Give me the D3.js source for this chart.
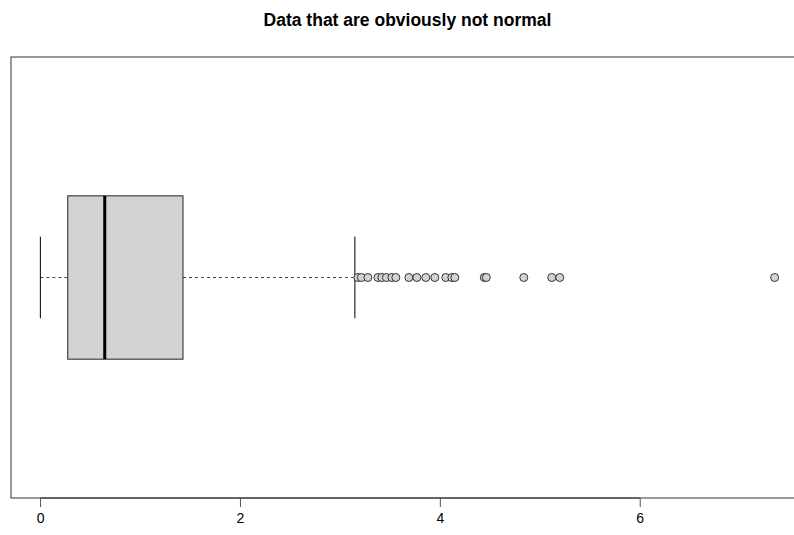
<!DOCTYPE html>
<html>
<head>
<meta charset="utf-8">
<script src="https://cdn.jsdelivr.net/npm/d3@7"></script>
<style>
  body { margin: 0; background: #fff; }
  text { font-family: "Liberation Sans", Arial, sans-serif; }
</style>
</head>
<body>
<svg id="graph" width="794" height="535"></svg>
<script>
// Chart title
var title = "Data that are obviously not normal";

// Box summary: lower whisker, Q1, median, Q3, upper whisker
var stats = {lo: 0.003, q1: 0.277, med: 0.647, q3: 1.43, hi: 3.15};

// Outliers
var outliers = [3.18, 3.215, 3.28, 3.38, 3.42, 3.465, 3.52, 3.56, 3.69, 3.77,
    3.86, 3.95, 4.06, 4.12, 4.15, 4.445, 4.465, 4.84, 5.12, 5.20, 7.35];

// Tick values on the x axis
var ticks = [0, 2, 4, 6];

var svg = d3.select("#graph"),
    width = +svg.attr("width"),
    height = +svg.attr("height");

// Plot region (right side runs past the window edge, as in the original)
var plot = {left: 11, right: 804, top: 57, bottom: 498};

// Data range, padded 4% each side
var xmin = stats.lo, xmax = d3.max(outliers), pad = (xmax - xmin) * 0.04;
var x = d3.scaleLinear().domain([xmin - pad, xmax + pad]).range([plot.left, plot.right]);
var y = d3.scaleLinear().domain([0.46, 1.54]).range([plot.bottom, plot.top]);

// Frame
svg.append("rect")
    .attr("x", plot.left).attr("y", plot.top)
    .attr("width", plot.right - plot.left).attr("height", plot.bottom - plot.top)
    .attr("fill", "none").attr("stroke", "#333").attr("stroke-width", 1);

// Title
svg.append("text")
    .attr("x", (plot.left + plot.right) / 2).attr("y", 26)
    .attr("text-anchor", "middle")
    .style("font-size", "17.5px").style("font-weight", "bold")
    .text(title);

// Axis
var xAxis = d3.axisBottom(x).tickValues(ticks).tickSize(9).tickPadding(6);
var ax = svg.append("g").attr("transform", "translate(0," + plot.bottom + ")").call(xAxis);
ax.select(".domain").attr("d", "M" + x(ticks[0]) + ",0H" + x(ticks[ticks.length - 1]))
    .attr("stroke", "#333");
ax.selectAll(".tick line").attr("stroke", "#555");
ax.selectAll(".tick text").style("font-size", "14px")
    .style("font-family", "Liberation Sans, Arial, sans-serif").attr("fill", "#000");

var cy = y(1);

// Whiskers (dashed)
[[stats.lo, stats.q1], [stats.q3, stats.hi]].forEach(function(seg) {
    svg.append("line")
        .attr("x1", x(seg[0])).attr("x2", x(seg[1]))
        .attr("y1", cy).attr("y2", cy)
        .attr("stroke", "#444").attr("stroke-dasharray", "3,3");
});

// Whisker caps
[stats.lo, stats.hi].forEach(function(v) {
    svg.append("line")
        .attr("x1", x(v)).attr("x2", x(v))
        .attr("y1", y(1.1)).attr("y2", y(0.9))
        .attr("stroke", "#000");
});

// Box
svg.append("rect")
    .attr("x", x(stats.q1)).attr("y", y(1.2))
    .attr("width", x(stats.q3) - x(stats.q1)).attr("height", y(0.8) - y(1.2))
    .attr("fill", "#d3d3d3").attr("stroke", "#222");

// Median
svg.append("line")
    .attr("x1", x(stats.med)).attr("x2", x(stats.med))
    .attr("y1", y(1.2)).attr("y2", y(0.8))
    .attr("stroke", "#000").attr("stroke-width", 3);

// Outliers
svg.selectAll("circle.out").data(outliers).enter().append("circle")
    .attr("class", "out")
    .attr("cx", d => x(d)).attr("cy", cy).attr("r", 4)
    .attr("fill", "#d3d3d3").attr("stroke", "#333");
</script>
</body>
</html>
